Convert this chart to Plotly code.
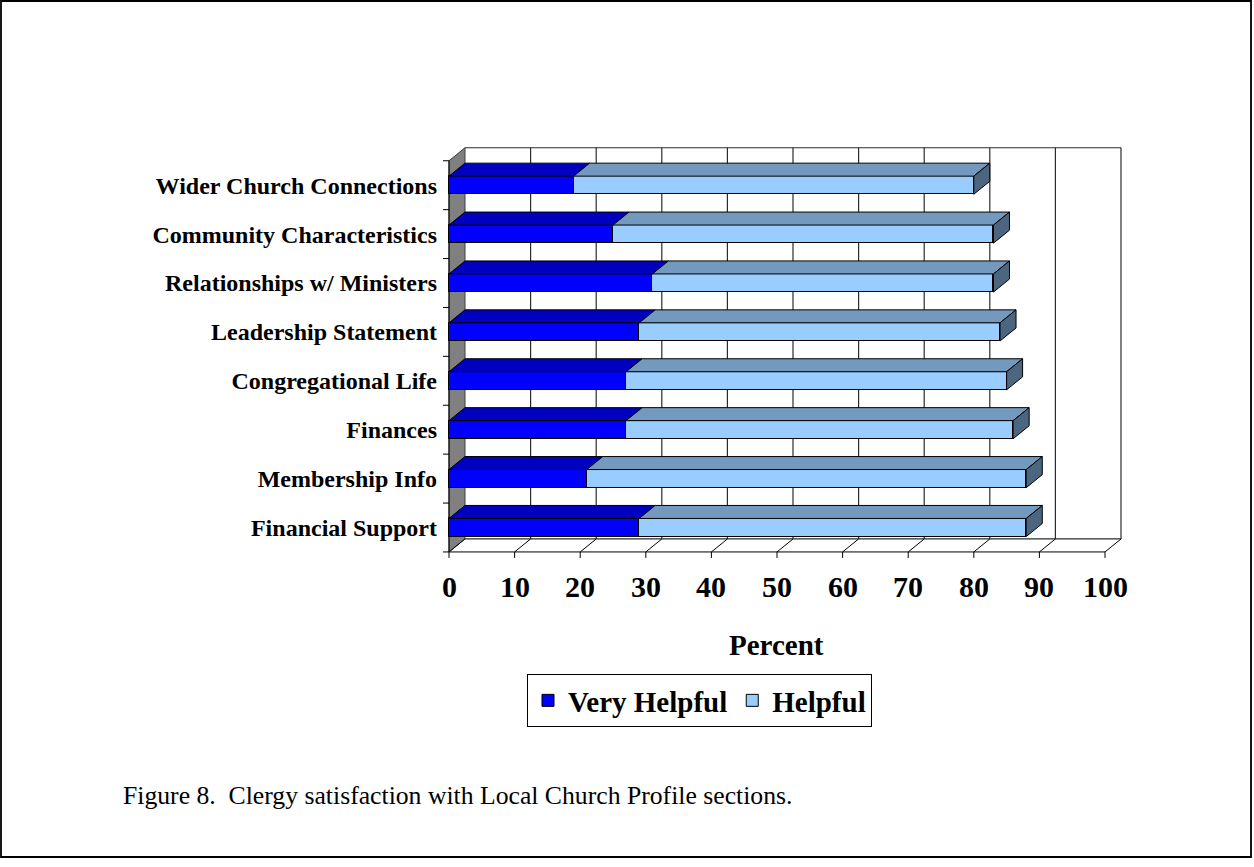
import plotly.graph_objects as go

# ---- data (bottom to top as drawn) ----
categories = [
    "Financial Support",
    "Membership Info",
    "Finances",
    "Congregational Life",
    "Leadership Statement",
    "Relationships w/ Ministers",
    "Community Characteristics",
    "Wider Church Connections",
]
very_helpful = [29, 21, 27, 27, 29, 31, 25, 19]
helpful = [59, 67, 59, 58, 55, 52, 58, 61]
x_ticks = [0, 10, 20, 30, 40, 50, 60, 70, 80, 90, 100]

# ---- page geometry ----
W, H = 1254, 867
SX, X0 = 6.56, 449.0      # pixels per percent, pixel of 0 %
SY, Y0 = 48.9, 527.5      # pixels per category, pixel of first category
ML, MR, MT, MB = 438, 120, 140, 300
PW, PH = W - ML - MR, H - MT - MB
x_range = [(ML - X0) / SX, (ML + PW - X0) / SX]
y_range = [(Y0 - (MT + PH)) / SY, (Y0 - MT) / SY]

DX = 16 / SX              # depth offset (x units)
DY = 13 / SY              # depth offset (y units)
BW = 0.37                 # bar thickness
n = len(categories)
y_lo, y_hi = -0.5, n - 0.5
XMAX = x_ticks[-1]


def paper_x(px):
    return (px - ML) / PW


def paper_y(py):
    return (MT + PH - py) / PH


FONT = "Liberation Serif"
BLUE, BLUE_TOP = "#0000FF", "#0000BF"
LIGHT, LIGHT_TOP, LIGHT_SIDE = "#99CCFF", "#7399BF", "#4D6680"

fig = go.Figure()


def path_of(pts, close=True):
    s = "M " + " L ".join(f"{x},{y}" for x, y in pts)
    return s + (" Z" if close else "")


def add_line(a, b, color="#000000", width=1):
    fig.add_shape(type="line", xref="x", yref="y", x0=a[0], y0=a[1], x1=b[0], y1=b[1],
                  line=dict(color=color, width=width), layer="below")


# left side wall (behind the bars)
fig.add_shape(type="path", xref="x", yref="y", layer="below",
              path=path_of([(0, y_lo), (0, y_hi), (DX, y_hi + DY), (DX, y_lo + DY)]),
              fillcolor="#808080", line=dict(color="#404040", width=1))

# back wall gridlines and frame
for t in x_ticks[1:]:
    add_line((t + DX, y_lo + DY), (t + DX, y_hi + DY), "#2b2b2b", 1.2)
add_line((DX, y_hi + DY), (XMAX + DX, y_hi + DY), "#2b2b2b", 1.2)
add_line((DX, y_lo + DY), (XMAX + DX, y_lo + DY), "#2b2b2b", 1.2)

# floor: front edge, depth lines and tick marks
add_line((0, y_lo), (XMAX, y_lo))
for t in x_ticks:
    add_line((t, y_lo), (t + DX, y_lo + DY))
    add_line((t, y_lo), (t, y_lo - 6 / SY))

# category axis with tick marks
add_line((0, y_lo), (0, y_hi))
for k in range(n + 1):
    add_line((0, k - 0.5), (-6 / SX, k - 0.5))

# front faces
idx = list(range(n))
fig.add_trace(go.Bar(y=idx, x=very_helpful, orientation="h", width=BW, name="Very Helpful",
                     marker=dict(color=BLUE, line=dict(color="#000000", width=1))))
fig.add_trace(go.Bar(y=idx, x=helpful, orientation="h", width=BW, name="Helpful",
                     marker=dict(color=LIGHT, line=dict(color="#000000", width=1))))

# top and end faces of the stacked bars
top_dark, top_light, side_light = [], [], []
for i in range(n):
    a, b = 0, very_helpful[i]
    c = b + helpful[i]
    yt = i + BW / 2
    yb = i - BW / 2
    top_dark.append([(a, yt), (b, yt), (b + DX, yt + DY), (a + DX, yt + DY)])
    top_light.append([(b, yt), (c, yt), (c + DX, yt + DY), (b + DX, yt + DY)])
    side_light.append([(c, yb), (c, yt), (c + DX, yt + DY), (c + DX, yb + DY)])


def polys(shapes):
    xs, ys = [], []
    for pts in shapes:
        for p in pts + [pts[0]]:
            xs.append(p[0])
            ys.append(p[1])
        xs.append(None)
        ys.append(None)
    return xs, ys


for shapes, col in [(top_dark, BLUE_TOP), (top_light, LIGHT_TOP), (side_light, LIGHT_SIDE)]:
    xs, ys = polys(shapes)
    fig.add_trace(go.Scatter(x=xs, y=ys, mode="lines", fill="toself", fillcolor=col,
                             line=dict(color="#000000", width=1), hoverinfo="skip",
                             showlegend=False))

# value axis labels
for t in x_ticks:
    fig.add_annotation(x=t, xref="x", y=paper_y(586), yref="paper", text=str(t),
                       showarrow=False, xanchor="center", yanchor="middle",
                       font=dict(family=FONT, size=30, color="#000000", weight="bold"))

fig.add_annotation(x=paper_x(776), y=paper_y(645), xref="paper", yref="paper", text="Percent",
                   showarrow=False, xanchor="center", yanchor="middle",
                   font=dict(family=FONT, size=29, color="#000000", weight="bold"))

fig.add_annotation(x=paper_x(121), y=paper_y(795), xref="paper", yref="paper",
                   text="Figure 8.\u00a0 Clergy satisfaction with Local Church Profile sections.",
                   showarrow=False, xanchor="left", yanchor="middle",
                   font=dict(family=FONT, size=25.7, color="#000000"))

# outer frame
fig.add_shape(type="rect", xref="paper", yref="paper",
              x0=paper_x(1), x1=paper_x(1251), y0=paper_y(857), y1=paper_y(1),
              line=dict(color="#000000", width=1.8), fillcolor="rgba(0,0,0,0)")

fig.update_layout(
    width=W, height=H,
    margin=dict(l=ML, r=MR, t=MT, b=MB, autoexpand=False),
    paper_bgcolor="#FFFFFF", plot_bgcolor="rgba(0,0,0,0)",
    barmode="stack", bargap=0,
    showlegend=True,
    legend=dict(orientation="h", x=paper_x(527), y=paper_y(674), xanchor="left", yanchor="top",
                bordercolor="#000000", borderwidth=1, bgcolor="#FFFFFF",
                font=dict(family=FONT, size=29, color="#000000", weight="bold"),
                traceorder="normal", itemwidth=30),
    xaxis=dict(range=x_range, showgrid=False, zeroline=False, showline=False,
               showticklabels=False, ticks="", fixedrange=True),
    yaxis=dict(range=y_range, showgrid=False, zeroline=False, showline=False,
               tickmode="array", tickvals=idx, ticktext=categories, ticks="",
               tickfont=dict(family=FONT, size=24, color="#000000", weight="bold"),
               fixedrange=True),
)

fig.write_html("out.html")
